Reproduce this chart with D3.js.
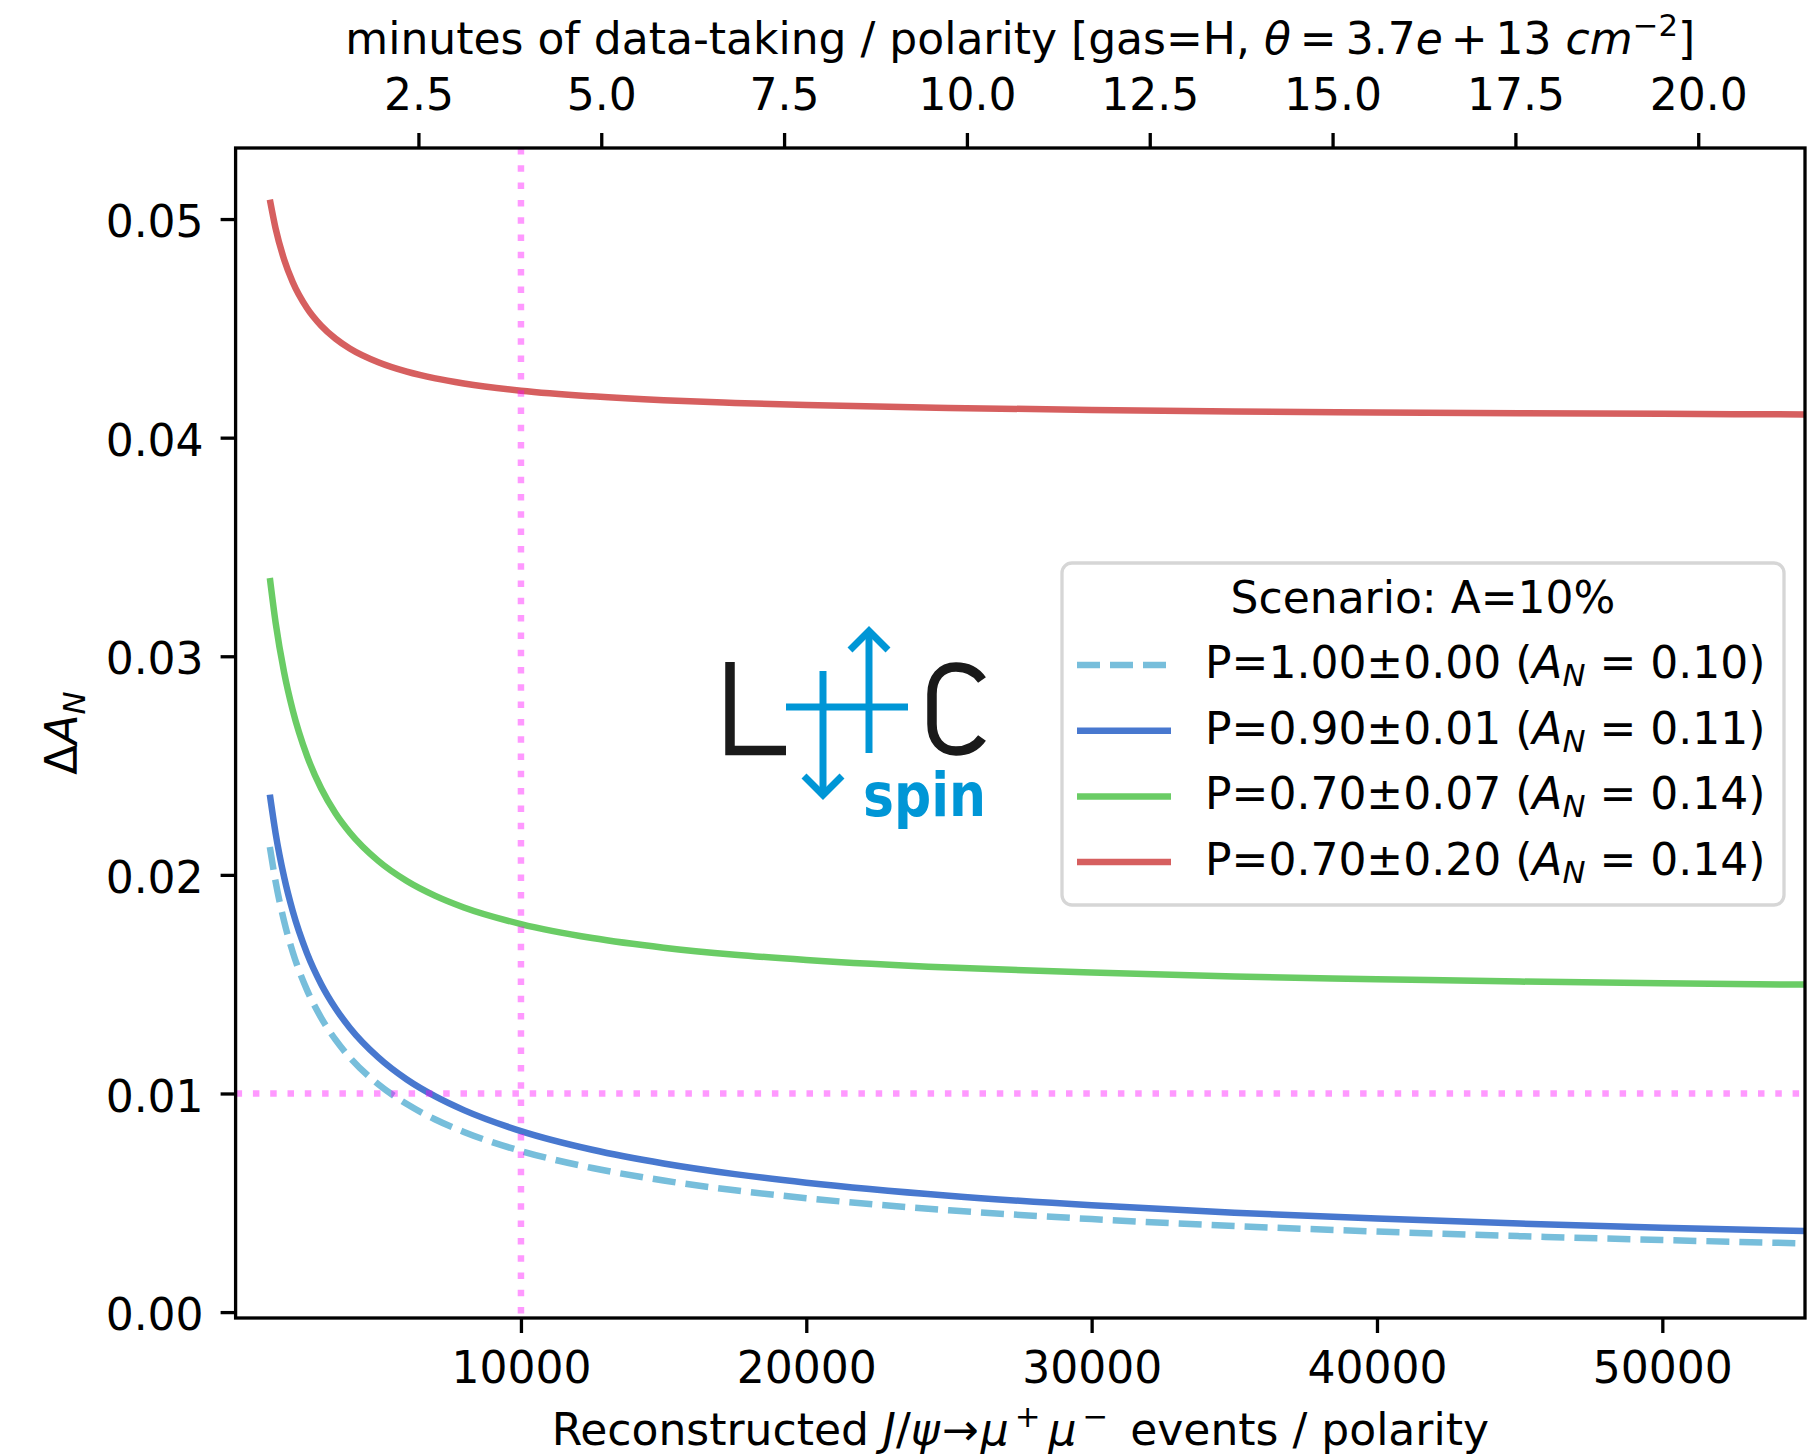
<!DOCTYPE html>
<html>
<head>
<meta charset="utf-8">
<script src="https://cdn.jsdelivr.net/npm/d3@7"></script>
<style>
  html, body { margin: 0; padding: 0; background: #fff; }
  svg text { font-family: "DejaVu Sans", sans-serif; fill: #000; }
</style>
</head>
<body>
<svg id="chart" width="1808" height="1455"></svg>
<script>
// Reconstructed J/psi events per polarity (sample points along each curve)
const events = [1200, 1400, 1700, 2000, 2500, 3000, 3500, 4000, 5000, 6000, 7000, 8000,
                10000, 12500, 15000, 17500, 20000, 25000, 30000, 35000, 40000, 45000, 50000, 55000];

// Uncertainty on A_N for each polarisation scenario
const p100 = [0.02128, 0.01970, 0.01788, 0.01648, 0.01474, 0.01346, 0.01246, 0.01165, 0.01042, 0.009515, 0.008809, 0.008240,
              0.007370, 0.006592, 0.006018, 0.005571, 0.005211, 0.004661, 0.004255, 0.003939, 0.003685, 0.003474, 0.003296, 0.003143];
const p090 = [0.02367, 0.02192, 0.01990, 0.01835, 0.01642, 0.01500, 0.01390, 0.01301, 0.01165, 0.01064, 0.009865, 0.009239,
              0.008281, 0.007427, 0.006800, 0.006312, 0.005920, 0.005324, 0.004887, 0.004548, 0.004276, 0.004052, 0.003864, 0.003704];
const p070a = [0.03358, 0.03156, 0.02926, 0.02754, 0.02545, 0.02395, 0.02282, 0.02194, 0.02064, 0.01972, 0.01904, 0.01851,
               0.01775, 0.01711, 0.01667, 0.01635, 0.01611, 0.01576, 0.01553, 0.01535, 0.01523, 0.01512, 0.01504, 0.01498];
const p070b = [0.05089, 0.04958, 0.04815, 0.04712, 0.04593, 0.04512, 0.04453, 0.04408, 0.04345, 0.04302, 0.04271, 0.04248,
               0.04215, 0.04189, 0.04171, 0.04159, 0.04149, 0.04136, 0.04127, 0.04120, 0.04115, 0.04112, 0.04109, 0.04106];

const seriesNames = ["P=1.00±0.00", "P=0.90±0.01", "P=0.70±0.07", "P=0.70±0.20"];
const seriesAN = ["0.10", "0.11", "0.14", "0.14"];
const seriesColors = ["#77bedb", "#4878cf", "#6acc65", "#d65f5f"];
const seriesDashed = [true, false, false, false];
const seriesValues = [p100, p090, p070a, p070b];

const xTicks = [10000, 20000, 30000, 40000, 50000];
const minuteTicks = [2.5, 5.0, 7.5, 10.0, 12.5, 15.0, 17.5, 20.0];
const yTicks = [0.00, 0.01, 0.02, 0.03, 0.04, 0.05];
const refEvents = 10000;   // vertical reference line
const refError = 0.01;     // horizontal reference line

const svg = d3.select("#chart");
const FS = 44;
const L = 235.6, R = 1805, T = 148, B = 1318;

const x = d3.scaleLinear().domain([0, 55000]).range([L, R]);
const xTop = d3.scaleLinear().domain([0, 21.46]).range([L, R]);
const y = d3.scaleLinear().domain([-0.00027, 0.05325]).range([B, T]);

// Rich text helper: parts with italic / script shift / extra spacing
function rich(sel, parts) {
  let cur = 0;
  parts.forEach(p => {
    const shift = p.shift || 0;
    const ts = sel.append("tspan").text(p.t);
    if (p.italic) ts.attr("font-style", "italic");
    if (p.scale) ts.attr("font-size", (FS * p.scale) + "px");
    if (p.dx) ts.attr("dx", p.dx);
    if (shift !== cur) { ts.attr("dy", (cur - shift)); cur = shift; }
  });
  if (cur !== 0) sel.append("tspan").attr("dy", cur).text("");
}

// clip for the curves
svg.append("defs").append("clipPath").attr("id", "plotclip")
  .append("rect").attr("x", L).attr("y", T).attr("width", R - L).attr("height", B - T);

const plot = svg.append("g").attr("clip-path", "url(#plotclip)");

const line = d3.line()
  .x((d, i) => x(events[i]))
  .y(d => y(d))
  .curve(d3.curveMonotoneX);

seriesValues.forEach((vals, k) => {
  plot.append("path")
    .datum(vals)
    .attr("d", line)
    .attr("fill", "none")
    .attr("stroke", seriesColors[k])
    .attr("stroke-width", 6.5)
    .attr("stroke-dasharray", seriesDashed[k] ? "23,10" : null);
});

// reference lines
plot.append("line")
  .attr("x1", x(refEvents)).attr("x2", x(refEvents))
  .attr("y1", T).attr("y2", B)
  .attr("stroke", "#ff00ff").attr("stroke-opacity", 0.4)
  .attr("stroke-width", 6.5).attr("stroke-dasharray", "6.5,10.8");
plot.append("line")
  .attr("x1", L).attr("x2", R)
  .attr("y1", y(refError)).attr("y2", y(refError))
  .attr("stroke", "#ff00ff").attr("stroke-opacity", 0.4)
  .attr("stroke-width", 6.5).attr("stroke-dasharray", "6.5,10.8");

// LHCspin logo
const logo = svg.append("g");
const blue = "#0096d6";
logo.append("path").attr("d", "M730,662 V750.5 H786")
  .attr("fill", "none").attr("stroke", "#1a1a1a").attr("stroke-width", 9.5);
logo.append("path")
  .attr("d", "M982,680 C975,670 966,667 956,667 C941,667 932,678 932,694 L932,724 C932,740 941,751 956,751 C966,751 975,748 982,738")
  .attr("fill", "none").attr("stroke", "#1a1a1a").attr("stroke-width", 9.5);
logo.append("line").attr("x1", 786).attr("x2", 908).attr("y1", 707).attr("y2", 707)
  .attr("stroke", blue).attr("stroke-width", 7);
logo.append("line").attr("x1", 823).attr("x2", 823).attr("y1", 671).attr("y2", 794)
  .attr("stroke", blue).attr("stroke-width", 7);
logo.append("path").attr("d", "M804,776 L823,795 L842,776")
  .attr("fill", "none").attr("stroke", blue).attr("stroke-width", 7);
logo.append("line").attr("x1", 869).attr("x2", 869).attr("y1", 753).attr("y2", 631)
  .attr("stroke", blue).attr("stroke-width", 7);
logo.append("path").attr("d", "M850,650 L869,631 L888,650")
  .attr("fill", "none").attr("stroke", blue).attr("stroke-width", 7);
logo.append("text").attr("x", 863).attr("y", 816)
  .attr("font-size", 60).attr("font-weight", "bold")
  .style("font-family", "'DejaVu Sans Condensed', 'DejaVu Sans', sans-serif")
  .style("fill", blue)
  .attr("textLength", 123).attr("lengthAdjust", "spacingAndGlyphs")
  .text("spin");

// axes
function styleAxis(g) {
  g.selectAll(".domain").remove();
  g.selectAll(".tick line").attr("stroke", "#000").attr("stroke-width", 3.3);
  g.selectAll(".tick text").attr("font-size", FS + "px")
    .style("font-family", "'DejaVu Sans', sans-serif").attr("fill", "#000");
}

svg.append("g").attr("transform", `translate(0,${B})`)
  .call(d3.axisBottom(x).tickValues(xTicks).tickFormat(d3.format("d")).tickSize(15).tickPadding(19))
  .call(styleAxis);

svg.append("g").attr("transform", `translate(0,${T})`)
  .call(d3.axisTop(xTop).tickValues(minuteTicks).tickFormat(d3.format(".1f")).tickSize(15).tickPadding(23))
  .call(styleAxis);

const yAxis = svg.append("g").attr("transform", `translate(${L},0)`)
  .call(d3.axisLeft(y).tickValues(yTicks).tickFormat(d3.format(".2f")).tickSize(15).tickPadding(17))
  .call(styleAxis);
yAxis.selectAll(".tick text").attr("dy", "0.4em");

// frame
svg.append("rect").attr("x", L).attr("y", T).attr("width", R - L).attr("height", B - T)
  .attr("fill", "none").attr("stroke", "#000").attr("stroke-width", 3.3);

// axis titles
const xl = svg.append("text").attr("x", (L + R) / 2).attr("y", 1445)
  .attr("text-anchor", "middle").attr("font-size", FS + "px");
rich(xl, [
  { t: "Reconstructed " },
  { t: "J", italic: true }, { t: "/" }, { t: "ψ", italic: true },
  { t: "→", dx: 2 },
  { t: "μ", italic: true, dx: 2 }, { t: "+", shift: 18, scale: 0.7, dx: 6 },
  { t: "μ", italic: true, dx: 8 }, { t: "−", shift: 18, scale: 0.7, dx: 6 },
  { t: " events / polarity", dx: 8 }
]);

const tl = svg.append("text").attr("x", (L + R) / 2).attr("y", 54)
  .attr("text-anchor", "middle").attr("font-size", FS + "px");
rich(tl, [
  { t: "minutes of data-taking / polarity [gas=H, " },
  { t: "θ", italic: true },
  { t: "=", dx: 9 }, { t: "3.7", dx: 9 }, { t: "e", italic: true },
  { t: "+", dx: 8 }, { t: "13", dx: 8 }, { t: " " }, { t: "cm", italic: true },
  { t: "−2", shift: 18, scale: 0.7 },
  { t: "]" }
]);

const yl = svg.append("text").attr("transform", "translate(77,733) rotate(-90)")
  .attr("text-anchor", "middle").attr("font-size", FS + "px");
rich(yl, [
  { t: "Δ" }, { t: "A", italic: true }, { t: "N", italic: true, shift: -8, scale: 0.7 }
]);

// legend
const lg = svg.append("g");
lg.append("rect").attr("x", 1062).attr("y", 563).attr("width", 722).attr("height", 342)
  .attr("rx", 10).attr("fill", "#fff").attr("fill-opacity", 0.8)
  .attr("stroke", "#d6d6d6").attr("stroke-width", 3.3);
lg.append("text").attr("x", 1423).attr("y", 613).attr("text-anchor", "middle")
  .attr("font-size", FS + "px").text("Scenario: A=10%");
seriesNames.forEach((name, k) => {
  const cy = 665 + 65.7 * k;
  lg.append("line").attr("x1", 1077).attr("x2", 1171).attr("y1", cy).attr("y2", cy)
    .attr("stroke", seriesColors[k]).attr("stroke-width", 6.5)
    .attr("stroke-dasharray", seriesDashed[k] ? "23,10" : null);
  const t = lg.append("text").attr("x", 1205).attr("y", 678 + 65.7 * k).attr("font-size", FS + "px");
  rich(t, [
    { t: name + " (" },
    { t: "A", italic: true }, { t: "N", italic: true, shift: -8, scale: 0.7 },
    { t: " = " + seriesAN[k] + ")" }
  ]);
});
</script>
</body>
</html>
